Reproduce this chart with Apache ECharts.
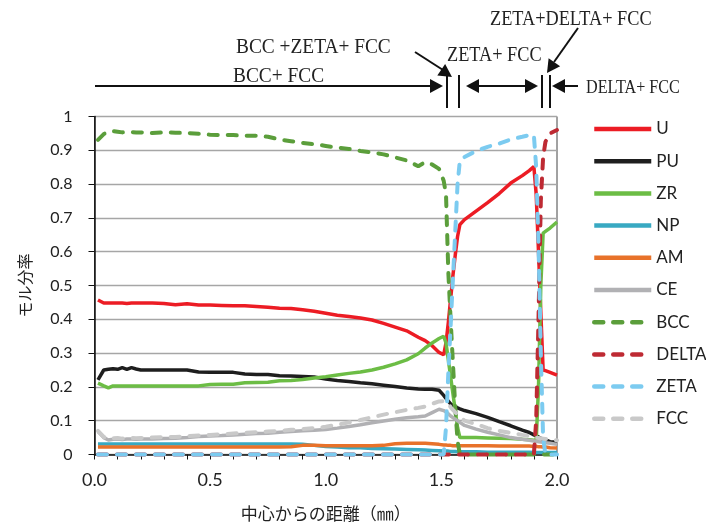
<!DOCTYPE html>
<html>
<head>
<meta charset="utf-8">
<script src="https://cdn.jsdelivr.net/npm/echarts@6/dist/echarts.min.js"></script>
<style>
html, body { margin: 0; padding: 0; background: #fff; }
#main { width: 706px; height: 524px; }
</style>
</head>
<body>
<div id="main"></div>
<script>
// 中心からの距離 (mm)
var xs = [0.015,0.04,0.06,0.08,0.1,0.12,0.14,0.16,0.18,0.2,
          0.25,0.3,0.35,0.4,0.45,0.5,0.55,0.6,0.65,0.7,
          0.75,0.8,0.85,0.9,0.95,1.0,1.05,1.1,1.15,1.2,
          1.25,1.3,1.35,1.4,1.43,1.46,1.49,1.51,1.52,1.53,
          1.54,1.55,1.56,1.57,1.58,1.6,1.65,1.7,1.75,1.8,
          1.85,1.88,1.9,1.91,1.92,1.93,1.94,1.95,1.97,2.0];

var U = [0.457,0.448,0.448,0.448,0.448,0.448,0.447,0.448,0.448,0.448,
         0.448,0.447,0.443,0.446,0.442,0.442,0.441,0.44,0.44,0.438,
         0.436,0.433,0.432,0.428,0.424,0.418,0.412,0.408,0.404,0.398,
         0.388,0.377,0.366,0.347,0.337,0.322,0.302,0.295,0.33,0.39,
         0.46,0.53,0.59,0.645,0.68,0.695,0.72,0.745,0.772,0.803,
         0.825,0.84,0.852,0.77,0.6,0.42,0.25,0.248,0.243,0.235];
var PU = [0.221,0.25,0.252,0.254,0.252,0.257,0.252,0.257,0.253,0.25,
          0.25,0.25,0.25,0.25,0.244,0.243,0.243,0.243,0.238,0.237,
          0.237,0.233,0.232,0.231,0.229,0.223,0.219,0.216,0.212,0.209,
          0.205,0.201,0.197,0.194,0.193,0.193,0.19,0.175,0.166,0.158,
          0.15,0.145,0.142,0.138,0.135,0.13,0.121,0.11,0.097,0.085,
          0.072,0.065,0.058,0.055,0.052,0.048,0.045,0.043,0.038,0.036];
var ZR = [0.211,0.203,0.197,0.203,0.203,0.203,0.203,0.203,0.203,0.203,
          0.203,0.203,0.203,0.203,0.203,0.207,0.208,0.208,0.212,0.213,
          0.214,0.218,0.219,0.222,0.226,0.23,0.235,0.24,0.244,0.25,
          0.258,0.268,0.28,0.298,0.315,0.33,0.343,0.35,0.33,0.28,
          0.23,0.18,0.13,0.08,0.05,0.05,0.05,0.049,0.048,0.047,
          0.045,0.044,0.042,0.04,0.2,0.5,0.655,0.66,0.67,0.688];
var NP = [0.031,0.031,0.031,0.031,0.031,0.031,0.031,0.031,0.031,0.031,
          0.031,0.031,0.031,0.031,0.031,0.031,0.031,0.031,0.031,0.031,
          0.031,0.031,0.031,0.03,0.027,0.024,0.022,0.02,0.02,0.018,
          0.017,0.016,0.015,0.014,0.013,0.012,0.011,0.01,0.01,0.01,
          0.009,0.009,0.009,0.008,0.008,0.008,0.008,0.007,0.007,0.007,
          0.007,0.007,0.006,0.006,0.006,0.006,0.006,0.006,0.006,0.006];
var AM = [0.022,0.022,0.022,0.022,0.022,0.022,0.022,0.022,0.022,0.022,
          0.022,0.022,0.022,0.022,0.022,0.022,0.022,0.022,0.022,0.022,
          0.022,0.022,0.023,0.027,0.027,0.026,0.026,0.026,0.026,0.026,
          0.027,0.032,0.033,0.033,0.033,0.032,0.03,0.028,0.028,0.027,
          0.027,0.026,0.026,0.026,0.026,0.026,0.026,0.026,0.025,0.025,
          0.025,0.025,0.024,0.024,0.023,0.023,0.022,0.022,0.02,0.019];
var CE = [0.068,0.05,0.043,0.045,0.046,0.044,0.046,0.046,0.045,0.046,
          0.046,0.047,0.048,0.05,0.053,0.055,0.056,0.058,0.06,0.062,
          0.063,0.066,0.068,0.07,0.072,0.074,0.078,0.083,0.088,0.094,
          0.099,0.104,0.109,0.112,0.114,0.124,0.134,0.13,0.126,0.12,
          0.114,0.109,0.104,0.1,0.095,0.086,0.075,0.066,0.058,0.05,
          0.045,0.042,0.04,0.039,0.038,0.037,0.036,0.035,0.033,0.03];
var BCC = [0.931,0.948,0.955,0.957,0.955,0.953,0.954,0.954,0.953,0.953,
           0.951,0.953,0.952,0.951,0.949,0.946,0.945,0.945,0.943,0.943,
           0.94,0.932,0.927,0.922,0.918,0.913,0.908,0.904,0.898,0.894,
           0.888,0.879,0.87,0.853,0.865,0.858,0.845,0.81,0.77,0.54,
           0.4,0.27,0.14,0.04,0,0,0,0,0,0,
           0,0,0,0,0,0,0,0,0,0];
var DELTA = [0,0,0,0,0,0,0,0,0,0,
             0,0,0,0,0,0,0,0,0,0,
             0,0,0,0,0,0,0,0,0,0,
             0,0,0,0,0,0,0,0,0,0,
             0,0,0,0,0,0,0,0,0,0,
             0,0,0,0.1,0.4,0.75,0.88,0.925,0.95,0.96];
var ZETA = [0,0,0,0,0,0,0,0,0,0,
            0,0,0,0,0,0,0,0,0,0,
            0,0,0,0,0,0,0,0,0,0,
            0,0,0,0,0,0,0,0,0.08,0.24,
            0.38,0.52,0.66,0.8,0.87,0.88,0.898,0.91,0.92,0.932,
            0.94,0.945,0.945,0.85,0.62,0.3,0.05,0,0,0];
var FCC = [0.07,0.052,0.046,0.048,0.049,0.047,0.049,0.049,0.048,0.049,
           0.05,0.051,0.052,0.054,0.056,0.058,0.06,0.062,0.064,0.066,
           0.068,0.07,0.073,0.075,0.078,0.082,0.088,0.095,0.102,0.11,
           0.118,0.125,0.132,0.138,0.142,0.15,0.157,0.158,0.156,0.15,
           0.14,0.132,0.125,0.118,0.112,0.1,0.09,0.078,0.07,0.064,
           0.058,0.055,0.052,0.05,0.049,0.048,0.047,0.046,0.044,0.042];

var yTicks = [0, 1, 0.1];   // min, max, interval
var xTicks = [0, 2, 0.5];

var names  = ['U','PU','ZR','NP','AM','CE','BCC','DELTA','ZETA','FCC'];
var values = [U, PU, ZR, NP, AM, CE, BCC, DELTA, ZETA, FCC];
var colors = ['#ec1c24','#1e1e1e','#6cbd45','#38a9c2','#e8722a','#b1b1b4',
              '#5b9e3b','#be2a33','#7ccbf0','#c9c9c9'];
var dashed = [false,false,false,false,false,false,true,true,true,true];

var series = names.map(function (n, k) {
    return {
        name: n,
        type: 'line',
        symbol: 'none',
        clip: false,
        animation: false,
        data: xs.map(function (x, i) { return [x, values[k][i]]; }),
        lineStyle: {
            color: colors[k],
            width: dashed[k] ? 4 : 3.5,
            type: dashed[k] ? [9, 10] : 'solid',
            cap: dashed[k] ? 'round' : 'butt'
        },
        itemStyle: { color: colors[k] }
    };
});

// arrow head as triangle, tip at (tx,ty), coming from (fx,fy)
function head(tx, ty, fx, fy) {
    var dx = tx - fx, dy = ty - fy, l = Math.sqrt(dx * dx + dy * dy);
    dx /= l; dy /= l;
    var bx = tx - dx * 13, by = ty - dy * 13;
    return {
        type: 'polygon',
        shape: { points: [[tx, ty], [bx - dy * 7, by + dx * 7], [bx + dy * 7, by - dx * 7]] },
        style: { fill: '#111' }
    };
}
function seg(x1, y1, x2, y2) {
    return { type: 'line', shape: { x1: x1, y1: y1, x2: x2, y2: y2 },
             style: { stroke: '#111', lineWidth: 2 } };
}
function label(t, x, y, size, sx) {
    return { type: 'text', x: x, y: y, scaleX: sx, originX: 0,
             style: { text: t, font: size + 'px "Liberation Serif"', fill: '#222',
                      textAlign: 'left', textVerticalAlign: 'middle' } };
}

var notes = [
    seg(95, 86, 430, 86), head(443, 86, 95, 86),
    seg(447, 75, 447, 108), seg(459, 75, 459, 108),
    seg(478, 86, 526, 86), head(466, 86, 530, 86), head(538, 86, 470, 86),
    seg(542, 75, 542, 108), seg(550, 75, 550, 108),
    seg(578, 86, 562, 86), head(552, 86, 578, 86),
    seg(415, 52, 443, 70), head(452, 77, 415, 52),
    seg(578, 28, 554, 62), head(547, 73, 578, 28),
    label('ZETA+DELTA+ FCC', 490, 19, 21, 0.87),
    label('BCC +ZETA+ FCC', 236, 47, 22, 0.88),
    label('ZETA+ FCC', 447, 55, 21, 0.87),
    label('BCC+ FCC', 233, 76, 22, 0.88),
    label('DELTA+ FCC', 586, 88, 19, 0.85)
];

var chart = echarts.init(document.getElementById('main'));
chart.setOption({
    backgroundColor: '#fff',
    animation: false,
    grid: { left: 94.5, right: 149, top: 116.5, bottom: 69.5, show: true,
            outerBoundsMode: 'none', containLabel: false,
            borderColor: '#444', borderWidth: 1, backgroundColor: 'transparent' },
    legend: {
        orient: 'vertical', left: 592, top: 120.5, padding: 0,
        itemWidth: 57, itemHeight: 12, itemGap: 15.2,
        data: names,
        itemStyle: { opacity: 0 },
        lineStyle: { width: 4.5 },
        textStyle: { fontFamily: 'Lato', fontSize: 17, color: '#222' }
    },
    xAxis: {
        type: 'value', min: xTicks[0], max: xTicks[1], interval: xTicks[2],
        name: '中心からの距離（㎜）', nameLocation: 'middle', nameGap: 51,
        nameTextStyle: { fontFamily: 'Noto Sans CJK JP', fontSize: 17, color: '#222' },
        axisLine: { lineStyle: { color: '#111', width: 1.5 } },
        axisTick: { show: true, length: 5, lineStyle: { color: '#111' } },
        minorTick: { show: true, splitNumber: 5, length: 5, lineStyle: { color: '#111' } },
        splitLine: { show: false },
        axisLabel: { fontFamily: 'Lato', fontSize: 18, color: '#222', margin: 17,
                     formatter: function (v) { return v.toFixed(1); } }
    },
    yAxis: {
        type: 'value', min: yTicks[0], max: yTicks[1], interval: yTicks[2],
        name: 'モル分率', nameLocation: 'middle', nameGap: 62, nameRotate: 90,
        nameTextStyle: { fontFamily: 'Noto Sans CJK JP', fontSize: 16, color: '#222' },
        axisLine: { show: true, lineStyle: { color: '#111', width: 1.5 } },
        axisTick: { show: true, length: 6, lineStyle: { color: '#111' } },
        splitLine: { lineStyle: { color: '#a6a6a6', width: 1.3 } },
        axisLabel: { fontFamily: 'Lato', fontSize: 16, color: '#222', margin: 22 }
    },
    graphic: notes,
    series: series
});
</script>
</body>
</html>
